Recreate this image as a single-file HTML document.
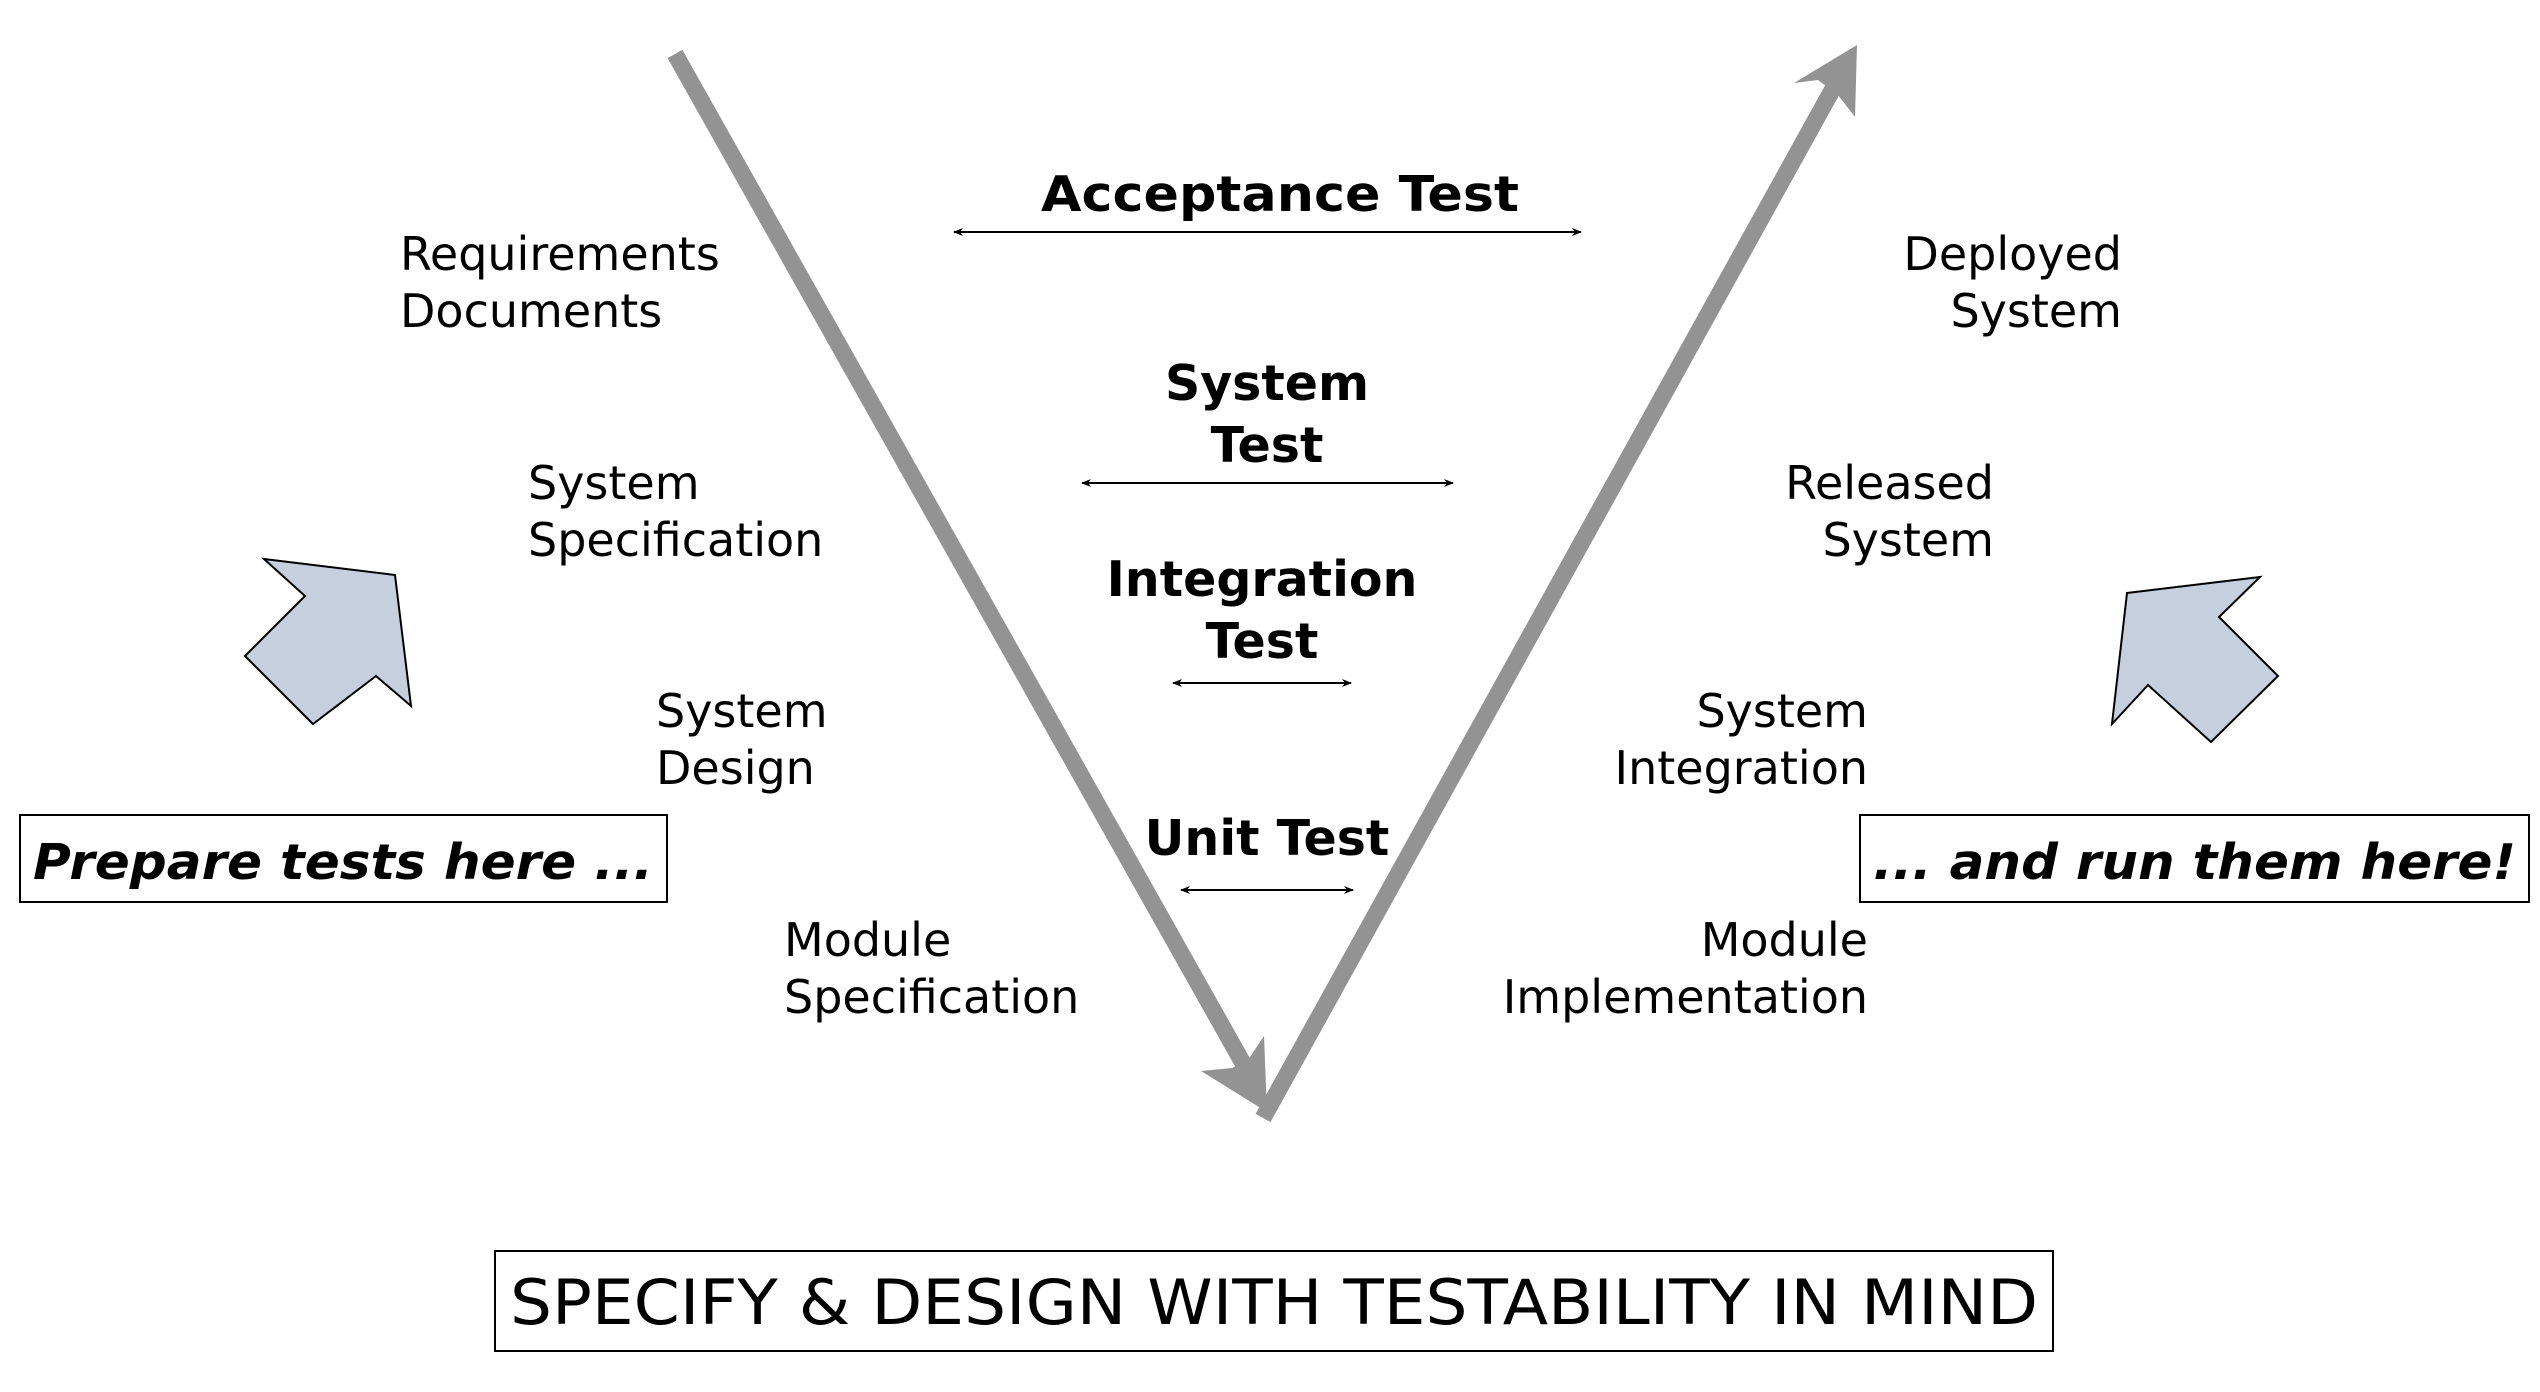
<!DOCTYPE html>
<html><head><meta charset="utf-8"><style>
html,body{margin:0;padding:0;background:#fff;}
svg{display:block;}
text{font-family:"DejaVu Sans","Liberation Sans",sans-serif;fill:#000;}
.r{font-size:46px;}
.b{font-size:49px;font-weight:bold;}
</style></head><body>
<svg width="2540" height="1392" viewBox="0 0 2540 1392" xmlns="http://www.w3.org/2000/svg">
<defs>
<marker id="ah" markerWidth="10" markerHeight="8" refX="9" refY="4" orient="auto-start-reverse" markerUnits="userSpaceOnUse">
<path d="M0,0 L10,4 L0,8 L3,4 Z" fill="#000"/>
</marker>
</defs>
<line x1="675" y1="54" x2="1244" y2="1065" stroke="#939393" stroke-width="17"/>
<polygon points="1201,1071 1232,1068 1248,1060 1264,1036 1267,1112" fill="#939393"/>
<line x1="1263" y1="1118" x2="1835" y2="85" stroke="#939393" stroke-width="17"/>
<polygon points="1857,45 1855,117 1838,95 1818,80 1794,83" fill="#939393"/>
<g stroke="#000" stroke-width="2">
<line x1="954" y1="232" x2="1581" y2="232" marker-start="url(#ah)" marker-end="url(#ah)"/>
<line x1="1082" y1="483" x2="1453" y2="483" marker-start="url(#ah)" marker-end="url(#ah)"/>
<line x1="1173" y1="683" x2="1351" y2="683" marker-start="url(#ah)" marker-end="url(#ah)"/>
<line x1="1181" y1="890" x2="1353" y2="890" marker-start="url(#ah)" marker-end="url(#ah)"/>
</g>
<text class="b" x="1280" y="211" text-anchor="middle" textLength="478" lengthAdjust="spacingAndGlyphs">Acceptance Test</text>
<text class="b" x="1267" y="400" text-anchor="middle">System</text>
<text class="b" x="1267" y="462" text-anchor="middle">Test</text>
<text class="b" x="1262" y="596" text-anchor="middle">Integration</text>
<text class="b" x="1262" y="658" text-anchor="middle">Test</text>
<text class="b" x="1267" y="855" text-anchor="middle">Unit Test</text>
<text class="r" x="400" y="270">Requirements</text>
<text class="r" x="400" y="327">Documents</text>
<text class="r" x="528" y="499">System</text>
<text class="r" x="528" y="556">Specification</text>
<text class="r" x="656" y="727">System</text>
<text class="r" x="656" y="784">Design</text>
<text class="r" x="784" y="956">Module</text>
<text class="r" x="784" y="1013">Specification</text>
<g text-anchor="end">
<text class="r" x="2122" y="270">Deployed</text>
<text class="r" x="2122" y="327">System</text>
<text class="r" x="1994" y="499">Released</text>
<text class="r" x="1994" y="556">System</text>
<text class="r" x="1868" y="727">System</text>
<text class="r" x="1868" y="784">Integration</text>
<text class="r" x="1868" y="956">Module</text>
<text class="r" x="1868" y="1013">Implementation</text>
</g>
<polygon points="264,559 395,575 411,706 376,676 313,724 245,656 305,596" fill="#c5cfdd" stroke="#000" stroke-width="2"/>
<polygon points="2127,593 2260,577 2219,617 2278,676 2211,742 2148,685 2112,724" fill="#c5cfdd" stroke="#000" stroke-width="2"/>
<rect x="20" y="815" width="647" height="87" fill="#fff" stroke="#000" stroke-width="2"/>
<text class="b" x="33" y="879" font-style="italic" textLength="620" lengthAdjust="spacingAndGlyphs">Prepare tests here ...</text>
<rect x="1860" y="815" width="669" height="87" fill="#fff" stroke="#000" stroke-width="2"/>
<text class="b" x="1873" y="879" font-style="italic" textLength="643" lengthAdjust="spacingAndGlyphs">... and run them here!</text>
<rect x="495" y="1251" width="1558" height="100" fill="#fff" stroke="#000" stroke-width="2"/>
<text x="510" y="1324" font-size="62" textLength="1528" lengthAdjust="spacingAndGlyphs">SPECIFY &amp; DESIGN WITH TESTABILITY IN MIND</text>
</svg>
</body></html>
